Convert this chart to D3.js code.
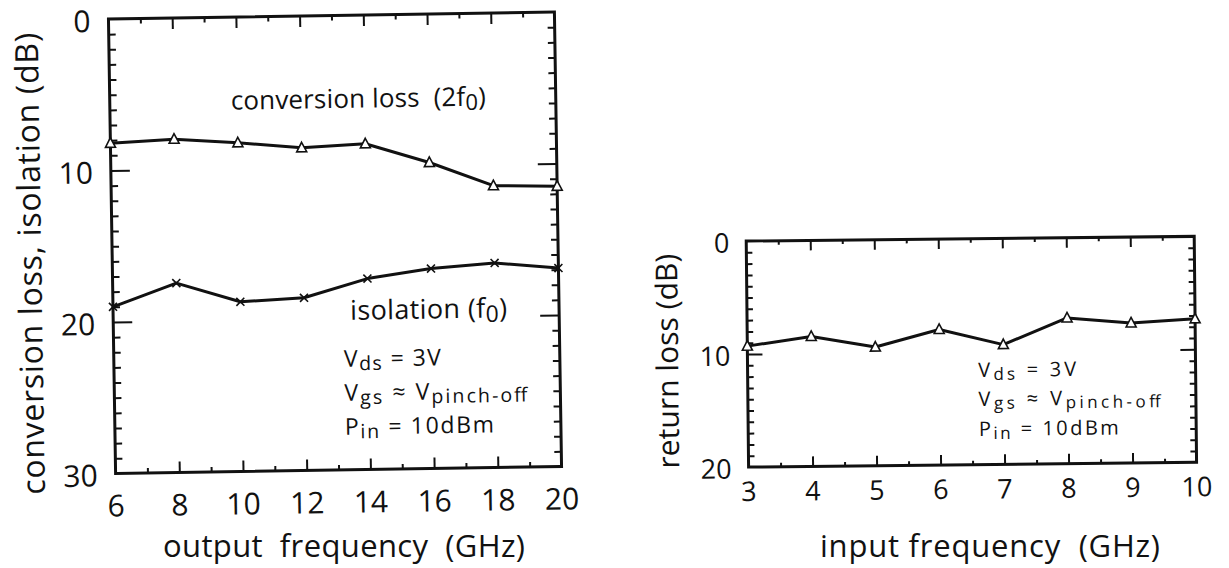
<!DOCTYPE html>
<html>
<head>
<meta charset="utf-8">
<script src="https://cdn.jsdelivr.net/npm/d3@7"></script>
<style>
  html, body { margin: 0; padding: 0; background: #fff; }
  svg { display: block; }
  text { font-family: "Open Sans", "DejaVu Sans", sans-serif; fill: #111; }
</style>
</head>
<body>
<svg id="chart" width="1229" height="568"></svg>
<script>
// ---------- data ----------
const outFreq = [6, 8, 10, 12, 14, 16, 18, 20];
const conversionLoss = [8.2, 8.0, 8.3, 8.7, 8.5, 9.8, 11.4, 11.5];
const isolation = [19.0, 17.5, 18.8, 18.6, 17.4, 16.8, 16.5, 16.9];
const inFreq = [3, 4, 5, 6, 7, 8, 9, 10];
const returnLoss = [9.3, 8.5, 9.5, 8.0, 9.4, 7.1, 7.6, 7.3];

const leftXTicks = [6, 8, 10, 12, 14, 16, 18, 20];
const leftXMinor = [7, 9, 11, 13, 15, 17, 19];
const leftYTicks = [0, 10, 20, 30];
const rightXTicks = [3, 4, 5, 6, 7, 8, 9, 10];
const rightXMinor = [3.5, 4.5, 5.5, 6.5, 7.5, 8.5, 9.5];
const rightYTicks = [0, 10, 20];

const svg = d3.select("#chart");
const INK = "#111";

function frameAxes(g, x, y, o) {
  const [x0, x1] = x.range();
  const [y0, y1] = y.range(); // y0 top, y1 bottom
  const yMinor = d3.range(y.domain()[0], y.domain()[1] + 1, 1).filter(v => !o.yTicks.includes(v));
  const yMajorInner = o.yTicks.filter(v => v !== y.domain()[0] && v !== y.domain()[1]);
  const xMajorInner = o.xTicks.filter(v => v !== x.domain()[0] && v !== x.domain()[1]);
  const style = sel => {
    sel.select(".domain").remove();
    sel.selectAll(".tick line").attr("stroke", INK).attr("stroke-width", 2);
    sel.selectAll(".tick text").remove();
  };
  g.append("g").attr("transform", `translate(0,${y1})`)
    .call(d3.axisBottom(x).tickValues(xMajorInner).tickSize(-o.xMajorLen)).call(style);
  g.append("g").attr("transform", `translate(0,${y1})`)
    .call(d3.axisBottom(x).tickValues(o.xMinor).tickSize(-o.xMinorLen)).call(style);
  g.append("g").attr("transform", `translate(0,${y0})`)
    .call(d3.axisTop(x).tickValues(xMajorInner).tickSize(-o.xMajorLen)).call(style);
  g.append("g").attr("transform", `translate(0,${y0})`)
    .call(d3.axisTop(x).tickValues(o.xMinor).tickSize(-o.xMinorLen)).call(style);
  g.append("g").attr("transform", `translate(${x0},0)`)
    .call(d3.axisLeft(y).tickValues(yMinor).tickSize(-o.yMinorLen)).call(style);
  g.append("g").attr("transform", `translate(${x0},0)`)
    .call(d3.axisLeft(y).tickValues(yMajorInner).tickSize(-o.yMajorLen)).call(style);
  g.append("g").attr("transform", `translate(${x1},0)`)
    .call(d3.axisRight(y).tickValues(yMinor).tickSize(-o.yMinorLen)).call(style);
  g.append("g").attr("transform", `translate(${x1},0)`)
    .call(d3.axisRight(y).tickValues(yMajorInner).tickSize(-o.yMajorLen)).call(style);
  g.append("rect").attr("x", x0).attr("y", y0).attr("width", x1 - x0).attr("height", y1 - y0)
    .attr("fill", "none").attr("stroke", INK).attr("stroke-width", 3);
  g.append("g").selectAll("text").data(o.xTicks).join("text")
    .attr("x", d => x(d)).attr("y", y1 + o.xLabelDy)
    .attr("text-anchor", "middle").attr("font-size", o.tickFont).text(d => d);
  g.append("g").selectAll("text").data(o.yTicks).join("text")
    .attr("x", x0 - o.yLabelDx).attr("y", d => y(d)).attr("dy", "0.42em")
    .attr("text-anchor", "end").attr("font-size", o.tickFont).text(d => d);
}

function drawLine(g, x, y, xs, ys) {
  const line = d3.line().x((d, i) => x(xs[i])).y(d => y(d));
  g.append("path").datum(ys).attr("d", line)
    .attr("fill", "none").attr("stroke", INK).attr("stroke-width", 3).attr("stroke-linejoin", "round");
}
function drawTriangles(g, x, y, xs, ys, s) {
  g.append("g").selectAll("path").data(ys).join("path")
    .attr("transform", (d, i) => `translate(${x(xs[i])},${y(d)})`)
    .attr("d", `M0,${-s * 0.55}L${s * 0.5},${s * 0.4}L${-s * 0.5},${s * 0.4}Z`)
    .attr("fill", "#fff").attr("stroke", INK).attr("stroke-width", 1.6);
}
function drawCrosses(g, x, y, xs, ys, s) {
  g.append("g").selectAll("path").data(ys).join("path")
    .attr("transform", (d, i) => `translate(${x(xs[i])},${y(d)})`)
    .attr("d", `M${-s / 2},${-s / 2}L${s / 2},${s / 2}M${s / 2},${-s / 2}L${-s / 2},${s / 2}`)
    .attr("fill", "none").attr("stroke", INK).attr("stroke-width", 1.6);
}
function subText(g, xPos, yPos, size, width, parts) {
  const t = g.append("text").attr("x", xPos).attr("y", yPos).attr("font-size", size)
    .attr("xml:space", "preserve");
  let shift = 0;
  parts.forEach(p => {
    const sp = t.append("tspan").text(p.t);
    const target = p.sub ? size * 0.16 : 0;
    if (target !== shift) { sp.attr("dy", target - shift); shift = target; }
    if (p.sub) sp.attr("font-size", size * 0.85);
  });
  if (width) t.attr("textLength", width).attr("lengthAdjust", "spacing");
  return t;
}

// ---------- left chart ----------
{
  const x0 = 112, x1 = 558, y0 = 15.5, y1 = 470;
  const cx = (x0 + x1) / 2, cy = (y0 + y1) / 2;
  const g = svg.append("g").attr("transform", `rotate(-0.9,${cx},${cy})`);
  const x = d3.scaleLinear().domain([6, 20]).range([x0, x1]);
  const y = d3.scaleLinear().domain([0, 30]).range([y0, y1]);
  frameAxes(g, x, y, {
    xTicks: leftXTicks, xMinor: leftXMinor, yTicks: leftYTicks,
    xMajorLen: 11, xMinorLen: 5, yMajorLen: 19, yMinorLen: 7,
    tickFont: 30, xLabelDy: 43, yLabelDx: 18
  });
  drawLine(g, x, y, outFreq, conversionLoss);
  drawLine(g, x, y, outFreq, isolation);
  drawTriangles(g, x, y, outFreq, conversionLoss, 10);
  drawCrosses(g, x, y, outFreq, isolation, 8);

  g.append("text").attr("transform", `translate(41,259) rotate(-90)`)
    .attr("text-anchor", "middle").attr("font-size", 32)
    .attr("textLength", 462).attr("lengthAdjust", "spacing")
    .text("conversion loss,  isolation (dB)");

  subText(g, 233, 108, 26, 255, [{ t: "conversion loss  (2f" }, { t: "0", sub: true }, { t: ")" }]);
  subText(g, 349, 320, 27, 157, [{ t: "isolation (f" }, { t: "0", sub: true }, { t: ")" }]);
  subText(g, 342, 367, 23, 97, [{ t: "V" }, { t: "ds", sub: true }, { t: " = 3V" }]);
  subText(g, 342, 401, 23, 183, [{ t: "V" }, { t: "gs", sub: true }, { t: " ≈ V" }, { t: "pinch-off", sub: true }]);
  subText(g, 342, 435, 23, 149, [{ t: "P" }, { t: "in", sub: true }, { t: " = 10dBm" }]);
}
svg.append("text").attr("x", 344).attr("y", 557).attr("text-anchor", "middle")
  .attr("font-size", 31).attr("xml:space", "preserve")
  .attr("textLength", 362).attr("lengthAdjust", "spacing")
  .text("output  frequency  (GHz)");

// ---------- right chart ----------
{
  const x0 = 747.4, x1 = 1195.4, y0 = 238.7, y1 = 464.7;
  const cx = (x0 + x1) / 2, cy = (y0 + y1) / 2;
  const g = svg.append("g").attr("transform", `rotate(-0.6,${cx},${cy})`);
  const x = d3.scaleLinear().domain([3, 10]).range([x0, x1]);
  const y = d3.scaleLinear().domain([0, 20]).range([y0, y1]);
  frameAxes(g, x, y, {
    xTicks: rightXTicks, xMinor: rightXMinor, yTicks: rightYTicks,
    xMajorLen: 10, xMinorLen: 4, yMajorLen: 15, yMinorLen: 6,
    tickFont: 27, xLabelDy: 34, yLabelDx: 17
  });
  drawLine(g, x, y, inFreq, returnLoss);
  drawTriangles(g, x, y, inFreq, returnLoss, 10);

  g.append("text").attr("transform", `translate(678,358) rotate(-90)`)
    .attr("text-anchor", "middle").attr("font-size", 30)
    .attr("textLength", 215).attr("lengthAdjust", "spacing")
    .text("return loss (dB)");

  subText(g, 978, 377, 20, 98, [{ t: "V" }, { t: "ds", sub: true }, { t: " = 3V" }]);
  subText(g, 978, 406, 20, 182, [{ t: "V" }, { t: "gs", sub: true }, { t: " ≈ V" }, { t: "pinch-off", sub: true }]);
  subText(g, 978, 436, 20, 140, [{ t: "P" }, { t: "in", sub: true }, { t: " = 10dBm" }]);
}
svg.append("text").attr("x", 990).attr("y", 557).attr("text-anchor", "middle")
  .attr("font-size", 31).attr("xml:space", "preserve")
  .attr("textLength", 340).attr("lengthAdjust", "spacing")
  .text("input frequency  (GHz)");
</script>
</body>
</html>
